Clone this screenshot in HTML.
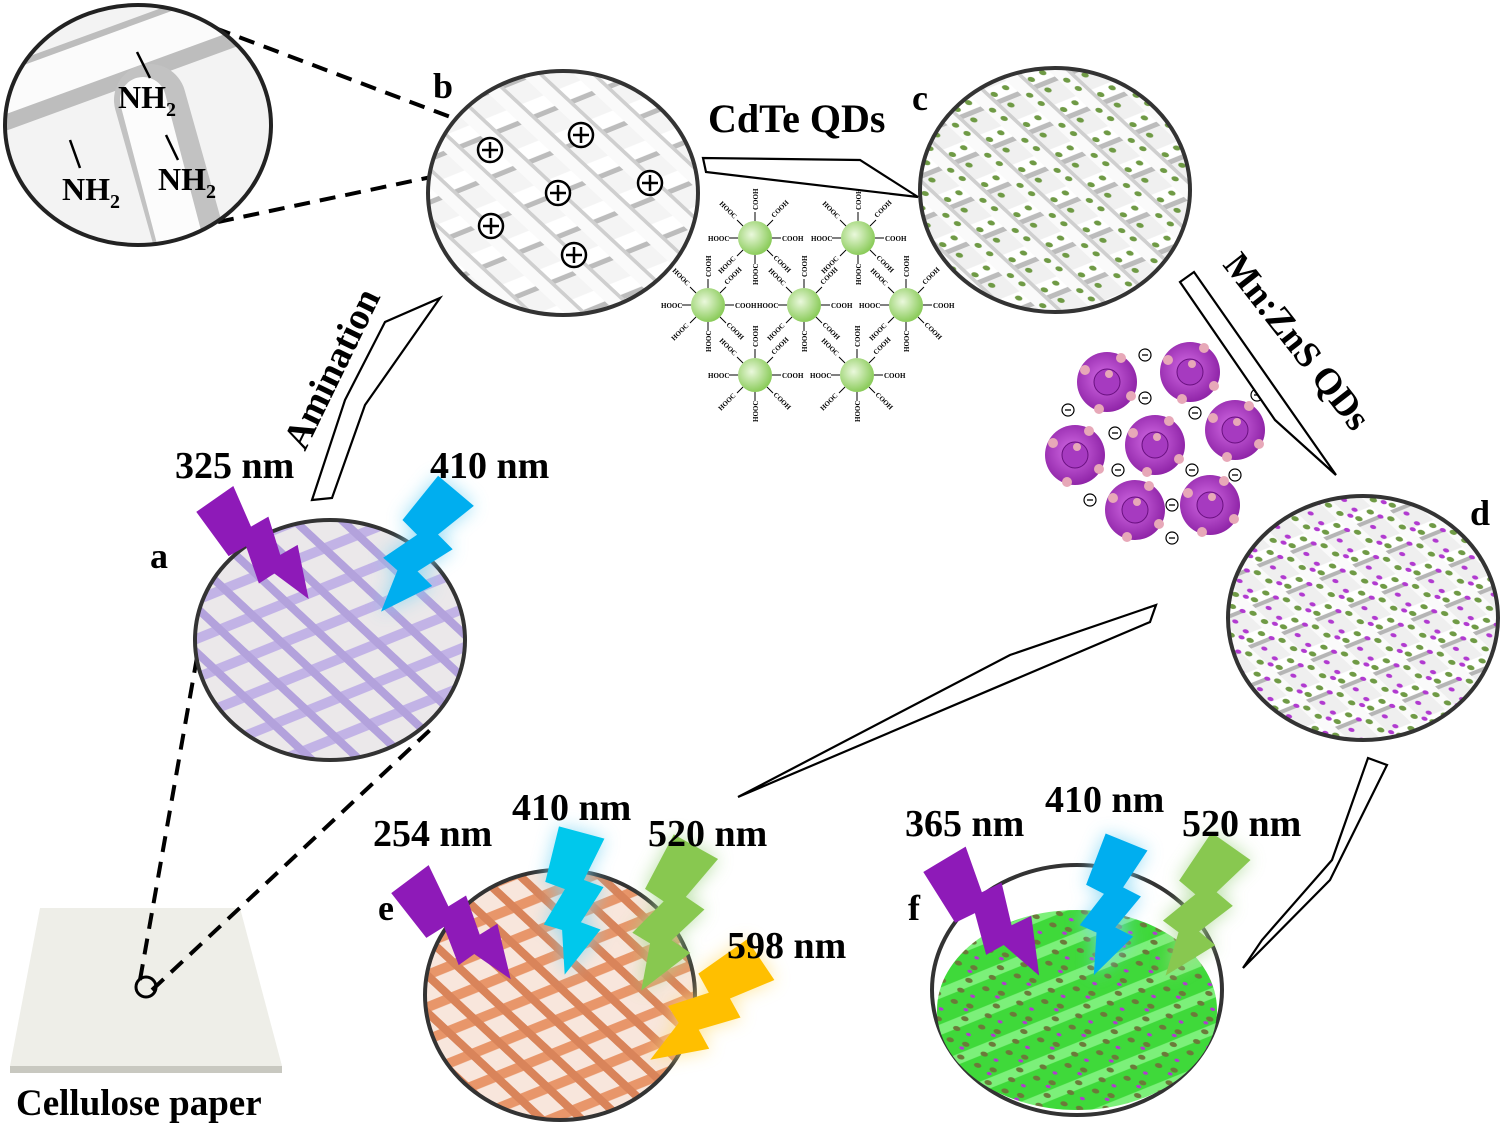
<!DOCTYPE html>
<html><head><meta charset="utf-8"><style>
html,body{margin:0;padding:0;background:#fff}
svg{display:block}
text{font-family:"Liberation Serif",serif;font-weight:bold;fill:#000}
</style></head><body>
<svg width="1505" height="1127" viewBox="0 0 1505 1127" xmlns="http://www.w3.org/2000/svg">
<defs>
 <pattern id="gW" width="40" height="40" patternUnits="userSpaceOnUse" patternTransform="rotate(-22) skewX(25)">
  <rect width="40" height="40" fill="#f4f4f4"/>
  <rect x="0" y="12" width="40" height="14" fill="#fff"/>
  <rect x="0" y="26" width="40" height="5" fill="#bcbcbc"/>
  <rect x="12" y="0" width="13" height="40" fill="#fafafa"/>
  <rect x="25" y="0" width="4" height="40" fill="#cfcfcf"/>
 </pattern>
 <pattern id="gC" width="40" height="40" patternUnits="userSpaceOnUse" patternTransform="rotate(-22) skewX(25)">
  <rect width="40" height="40" fill="#f0f0f0"/>
  <rect x="0" y="12" width="40" height="14" fill="#fff"/>
  <rect x="0" y="26" width="40" height="5" fill="#bcbcbc"/>
  <rect x="12" y="0" width="13" height="40" fill="#fafafa"/>
  <rect x="25" y="0" width="4" height="40" fill="#cfcfcf"/>
  <circle cx="6" cy="18" r="3" fill="#6f9a45"/><circle cx="20" cy="6" r="3" fill="#6f9a45"/>
  <circle cx="32" cy="20" r="3" fill="#6f9a45"/><circle cx="18" cy="34" r="3" fill="#6f9a45"/>
  <circle cx="36" cy="36" r="3" fill="#6f9a45"/>
 </pattern>
 <pattern id="gD" width="36" height="36" patternUnits="userSpaceOnUse" patternTransform="rotate(-22) skewX(25)">
  <rect width="36" height="36" fill="#efefef"/>
  <rect x="0" y="11" width="36" height="11" fill="#fff"/>
  <rect x="0" y="22" width="36" height="4" fill="#b5b5b5"/>
  <rect x="11" y="0" width="11" height="36" fill="#fafafa"/>
  <circle cx="6" cy="16" r="3" fill="#6f9a45"/><circle cx="18" cy="6" r="3" fill="#6f9a45"/>
  <circle cx="28" cy="18" r="3" fill="#6f9a45"/><circle cx="16" cy="30" r="3" fill="#6f9a45"/>
  <circle cx="10" cy="24" r="2.5" fill="#b13ad0"/><circle cx="32" cy="8" r="2.5" fill="#b13ad0"/>
  <circle cx="32" cy="31" r="2.5" fill="#b13ad0"/><circle cx="24" cy="12" r="2.5" fill="#b13ad0"/>
 </pattern>
 <pattern id="gA" width="36" height="36" patternUnits="userSpaceOnUse" patternTransform="rotate(-22) skewX(25)">
  <rect width="36" height="36" fill="#ebe8ea"/>
  <rect x="0" y="13" width="36" height="10" fill="#c2b3e6"/>
  <rect x="13" y="0" width="9" height="36" fill="#b3a2dc"/>
 </pattern>
 <pattern id="gE" width="30" height="30" patternUnits="userSpaceOnUse" patternTransform="rotate(-22) skewX(25)">
  <rect width="30" height="30" fill="#f8e6dc"/>
  <rect x="0" y="9" width="30" height="10" fill="#e8966a"/>
  <rect x="10" y="0" width="9" height="30" fill="#d9845a"/>
 </pattern>
 <pattern id="gF" width="34" height="34" patternUnits="userSpaceOnUse" patternTransform="rotate(-22) skewX(25)">
  <rect width="34" height="34" fill="#3fd93a"/>
  <rect x="0" y="10" width="34" height="10" fill="#7cf07a"/>
  <circle cx="6" cy="14" r="3" fill="#6b7a3a"/><circle cx="20" cy="4" r="3" fill="#6b7a3a"/>
  <circle cx="26" cy="20" r="3" fill="#6b7a3a"/><circle cx="12" cy="28" r="3" fill="#6b7a3a"/>
  <circle cx="30" cy="30" r="2" fill="#b13ad0"/><circle cx="14" cy="6" r="2" fill="#b13ad0"/>
 </pattern>
 <radialGradient id="grn" cx="40%" cy="40%" r="60%"><stop offset="0" stop-color="#eaf8dc"/><stop offset="1" stop-color="#8ccc5c"/></radialGradient>
 <radialGradient id="pur" cx="45%" cy="45%" r="60%"><stop offset="0" stop-color="#d46ce6"/><stop offset="1" stop-color="#8a1fa3"/></radialGradient>
 <filter id="blur" x="-50%" y="-50%" width="200%" height="200%"><feGaussianBlur stdDeviation="9"/></filter>
 <polygon id="bolt" points="-18,0 14,4 4,34 18,37 6,63 20,66 0,100 -6,70 -19,68 -8,42 -22,39"/>
 <g id="mol">
  <circle r="17" fill="url(#grn)"/>
  <g stroke="#000" stroke-width="1"><line x1="17" y1="0" x2="26" y2="0"/><line x1="-17" y1="0" x2="-26" y2="0"/><line x1="0" y1="17" x2="0" y2="26"/><line x1="0" y1="-17" x2="0" y2="-26"/><line x1="12" y1="12" x2="18" y2="18"/><line x1="-12" y1="12" x2="-18" y2="18"/><line x1="12" y1="-12" x2="18" y2="-18"/><line x1="-12" y1="-12" x2="-18" y2="-18"/></g>
  <g font-size="7" style="font-weight:bold">
   <text x="27" y="3">COOH</text><text x="-47" y="3">HOOC</text>
   <text transform="translate(3,-28) rotate(-90)" >COOH</text>
   <text transform="translate(3,47) rotate(-90)">HOOC</text>
   <text transform="translate(19,-20) rotate(-45)">COOH</text>
   <text transform="translate(-36,-34) rotate(45)">HOOC</text>
   <text transform="translate(18,20) rotate(45)">COOH</text>
   <text transform="translate(-34,36) rotate(-45)">HOOC</text>
  </g>
 </g>
 <g id="pb">
  <circle r="30" fill="url(#pur)"/>
  <circle r="13" fill="#a63ac0" stroke="#6a1080"/>
  <circle cx="-22" cy="-12" r="5" fill="#e7a8b8"/><circle cx="14" cy="-24" r="5" fill="#e7a8b8"/>
  <circle cx="24" cy="14" r="5" fill="#e7a8b8"/><circle cx="-8" cy="27" r="5" fill="#e7a8b8"/>
  <circle cx="2" cy="-8" r="4" fill="#e7a8b8"/>
 </g>
 <g id="neg"><circle r="6" fill="#fff" stroke="#000" stroke-width="1.2"/><line x1="-3" y1="0" x2="3" y2="0" stroke="#000" stroke-width="1.3"/></g>
 <g id="pos"><circle r="12" fill="#fff" stroke="#000" stroke-width="2.5"/><line x1="-8" y1="0" x2="8" y2="0" stroke="#000" stroke-width="2.5"/><line x1="0" y1="-8" x2="0" y2="8" stroke="#000" stroke-width="2.5"/></g>
 <clipPath id="cz"><ellipse cx="138" cy="125" rx="133" ry="120"/></clipPath>
</defs>

<!-- paper -->
<polygon points="40,908 240,908 282,1066 10,1066" fill="#eeeee8"/>
<polygon points="10,1066 282,1066 282,1073 10,1073" fill="#c8c8c0"/>
<circle cx="146" cy="987" r="10" fill="none" stroke="#000" stroke-width="3"/>
<g stroke="#000" stroke-width="4" stroke-dasharray="16,10" fill="none">
 <line x1="140" y1="980" x2="205" y2="612"/>
 <line x1="152" y1="990" x2="430" y2="730"/>
 <line x1="215" y1="28" x2="490" y2="132"/>
 <line x1="218" y1="222" x2="488" y2="165"/>
</g>
<text x="16" y="1115" font-size="37">Cellulose paper</text>

<!-- zoom circle -->
<ellipse cx="138" cy="125" rx="133" ry="120" fill="#f3f3f3"/>
<g clip-path="url(#cz)" stroke-linecap="round">
 <path d="M0,100 L260,5" stroke="#bdbdbd" stroke-width="62"/>
 <path d="M0,95 L260,0" stroke="#fbfbfb" stroke-width="40"/>
 <path d="M150,100 L195,260" stroke="#c2c2c2" stroke-width="72"/>
 <path d="M143,100 L185,260" stroke="#fcfcfc" stroke-width="46"/>
</g>
<ellipse cx="138" cy="125" rx="133" ry="120" fill="none" stroke="#222" stroke-width="4"/>
<g stroke="#000" stroke-width="2.5"><line x1="137" y1="52" x2="150" y2="78"/><line x1="70" y1="140" x2="80" y2="168"/><line x1="166" y1="135" x2="178" y2="160"/></g>
<text x="118" y="108" font-size="32">NH<tspan font-size="20" dy="8">2</tspan></text>
<text x="62" y="200" font-size="32">NH<tspan font-size="20" dy="8">2</tspan></text>
<text x="158" y="190" font-size="32">NH<tspan font-size="20" dy="8">2</tspan></text>

<!-- circle b -->
<ellipse cx="563" cy="193" rx="135" ry="122" fill="url(#gW)" stroke="#333" stroke-width="4"/>
<use href="#pos" x="490" y="150"/><use href="#pos" x="581" y="135"/><use href="#pos" x="558" y="193"/>
<use href="#pos" x="650" y="183"/><use href="#pos" x="491" y="226"/><use href="#pos" x="574" y="255"/>
<text x="433" y="98" font-size="36">b</text>

<!-- circle c -->
<ellipse cx="1055" cy="190" rx="135" ry="122" fill="url(#gC)" stroke="#333" stroke-width="4"/>
<text x="912" y="110" font-size="36">c</text>
<text x="708" y="132" font-size="40">CdTe QDs</text>

<!-- circle d -->
<ellipse cx="1363" cy="618" rx="135" ry="122" fill="url(#gD)" stroke="#333" stroke-width="4"/>
<text x="1470" y="525" font-size="36">d</text>

<!-- circle a -->
<ellipse cx="330" cy="640" rx="135" ry="120" fill="url(#gA)" stroke="#333" stroke-width="4"/>
<text x="150" y="568" font-size="36">a</text>

<!-- circle e -->
<ellipse cx="560" cy="995" rx="135" ry="125" fill="url(#gE)" stroke="#333" stroke-width="4"/>
<text x="378" y="920" font-size="36">e</text>

<!-- circle f -->
<ellipse cx="1077" cy="990" rx="145" ry="125" fill="#fff" stroke="#333" stroke-width="4"/>
<ellipse cx="1077" cy="1010" rx="140" ry="100" fill="url(#gF)"/>
<text x="908" y="920" font-size="36">f</text>

<!-- molecules -->
<use href="#mol" x="755" y="238"/><use href="#mol" x="858" y="238"/>
<use href="#mol" x="708" y="305"/><use href="#mol" x="804" y="305"/><use href="#mol" x="906" y="305"/>
<use href="#mol" x="755" y="375"/><use href="#mol" x="857" y="375"/>

<!-- purple QDs -->
<use href="#pb" x="1107" y="382"/><use href="#pb" x="1190" y="372"/><use href="#pb" x="1075" y="455"/>
<use href="#pb" x="1155" y="445"/><use href="#pb" x="1235" y="430"/><use href="#pb" x="1135" y="510"/><use href="#pb" x="1210" y="505"/>
<use href="#neg" x="1145" y="355"/><use href="#neg" x="1068" y="410"/><use href="#neg" x="1145" y="398"/><use href="#neg" x="1195" y="413"/>
<use href="#neg" x="1115" y="433"/><use href="#neg" x="1118" y="470"/><use href="#neg" x="1192" y="470"/><use href="#neg" x="1235" y="475"/>
<use href="#neg" x="1090" y="500"/><use href="#neg" x="1172" y="538"/><use href="#neg" x="1257" y="395"/><use href="#neg" x="1172" y="505"/>

<!-- process arrows -->
<g fill="#fff" stroke="#000" stroke-width="2.2" stroke-linejoin="miter">
 <polygon points="312,500 332,498 365,405 440,298 385,322 345,400"/>
 <polygon points="703,158 706,172 918,197 860,160"/>
 <polygon points="1180,282 1194,272 1336,475 1275,420"/>
 <polygon points="738,797 1150,622 1156,605 1010,655"/>
 <polygon points="1368,758 1387,765 1330,880 1243,968 1262,940 1332,860"/>
</g>
<text transform="translate(305,452) rotate(-64)" font-size="38">Amination</text>
<text transform="translate(1222,265) rotate(52)" font-size="37">Mn:ZnS QDs</text>

<!-- bolts with glow -->
<g filter="url(#blur)" opacity="0.8">
 <use href="#bolt" fill="#7fd6f4" transform="translate(460,490) rotate(33) scale(1.45)"/>
 <use href="#bolt" fill="#7fd6f4" transform="translate(585,830) rotate(8) scale(1.46)"/>
 <use href="#bolt" fill="#a8d890" transform="translate(700,845) rotate(22) scale(1.57)"/>
 <use href="#bolt" fill="#ffe080" transform="translate(765,960) rotate(49) scale(1.52)"/>
 <use href="#bolt" fill="#7fd6f4" transform="translate(1130,840) rotate(15) scale(1.4)"/>
 <use href="#bolt" fill="#a8d890" transform="translate(1235,845) rotate(28) scale(1.48)"/>
</g>
<use href="#bolt" fill="#8e1ab8" transform="translate(215,495) rotate(-42) scale(1.4)"/>
<use href="#bolt" fill="#00aeef" transform="translate(460,490) rotate(33) scale(1.45)"/>
<use href="#bolt" fill="#8e1ab8" transform="translate(410,875) rotate(-44) scale(1.45)"/>
<use href="#bolt" fill="#00c8ec" transform="translate(585,830) rotate(8) scale(1.46)"/>
<use href="#bolt" fill="#88c850" transform="translate(700,845) rotate(22) scale(1.57)"/>
<use href="#bolt" fill="#ffbf00" transform="translate(765,960) rotate(49) scale(1.52)"/>
<use href="#bolt" fill="#8e1ab8" transform="translate(945,855) rotate(-38) scale(1.53)"/>
<use href="#bolt" fill="#00aeef" transform="translate(1130,840) rotate(15) scale(1.4)"/>
<use href="#bolt" fill="#88c850" transform="translate(1235,845) rotate(28) scale(1.48)"/>

<g font-size="38">
 <text x="175" y="478">325 nm</text>
 <text x="430" y="478">410 nm</text>
 <text x="373" y="846">254 nm</text>
 <text x="512" y="820">410 nm</text>
 <text x="648" y="846">520 nm</text>
 <text x="727" y="958">598 nm</text>
 <text x="905" y="836">365 nm</text>
 <text x="1045" y="812">410 nm</text>
 <text x="1182" y="836">520 nm</text>
</g>
</svg>
</body></html>
